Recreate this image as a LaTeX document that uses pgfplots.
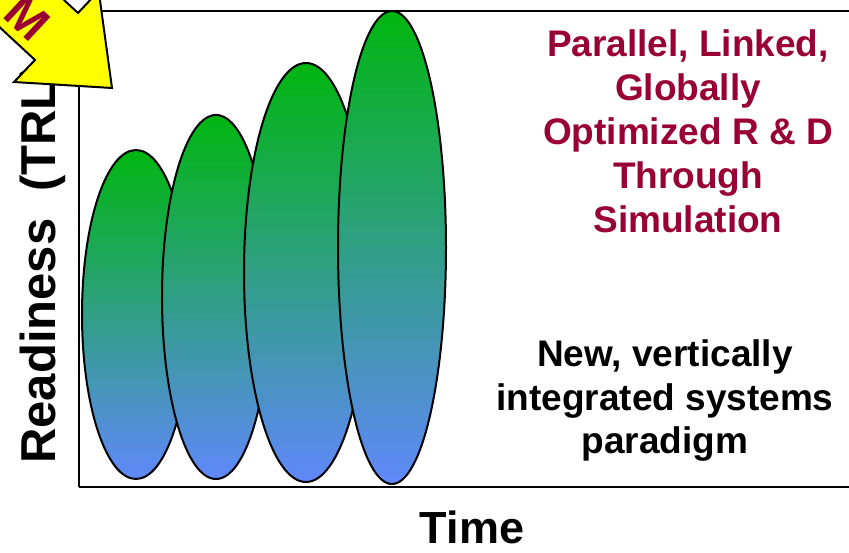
\documentclass[border=0pt]{standalone}
\usepackage{pgfplots}
\pgfplotsset{compat=1.18}
\usepackage{fontspec}
\setmainfont{Liberation Sans}
\definecolor{topgreen}{RGB}{0,182,16}
\definecolor{botblue}{RGB}{96,136,250}
\definecolor{darkred}{RGB}{153,0,51}
\definecolor{arrowyellow}{RGB}{255,255,0}
\begin{document}
\begin{tikzpicture}
\begin{axis}[name=ax, at={(0pt,0pt)}, anchor=south west,
  x=1pt, y=1pt, xmin=79, xmax=849, ymin=0, ymax=476,
  axis x line=box, axis y line=left,
  axis line style={line width=2pt,-},
  xtick=\empty, ytick=\empty, clip=false]
% ellipses: centre x, centre y, x radius, y radius
\shadedraw[top color=topgreen, bottom color=botblue, draw=black, line width=2pt] (axis cs:136,172.5) ellipse [x radius=54, y radius=164.5];
\shadedraw[top color=topgreen, bottom color=botblue, draw=black, line width=2pt] (axis cs:216,190) ellipse [x radius=54, y radius=182];
\shadedraw[top color=topgreen, bottom color=botblue, draw=black, line width=2pt] (axis cs:306,214.5) ellipse [x radius=62, y radius=209.5];
\shadedraw[top color=topgreen, bottom color=botblue, draw=black, line width=2pt] (axis cs:392,239.5) ellipse [x radius=54, y radius=236.5];
% labels
\node[rotate=90, anchor=base west, font=\fontsize{49}{58}\selectfont\bfseries, inner sep=0pt] at (axis cs:56,23) {Readiness\hspace{0.55em}(TRL)};
\node[anchor=base, font=\fontsize{45}{54}\selectfont\bfseries, inner sep=0pt] at (axis cs:472,-56) {Time};
% red text
\begin{scope}[every node/.style={anchor=base, font=\fontsize{37}{44}\selectfont\bfseries, text=darkred, inner sep=0pt}]
\node at (axis cs:688,430) {Parallel, Linked,};
\node at (axis cs:688,386) {Globally};
\node at (axis cs:688,342) {Optimized R \& D};
\node at (axis cs:688,298) {Through};
\node at (axis cs:688,254) {Simulation};
\end{scope}
\begin{scope}[every node/.style={anchor=base, font=\fontsize{37}{44}\selectfont\bfseries, text=black, inner sep=0pt}]
\node at (axis cs:665,121) {New, vertically};
\node at (axis cs:665,77) {integrated systems};
\node at (axis cs:665,34) {paradigm};
\end{scope}
% yellow arrow
\filldraw[fill=arrowyellow, draw=black, line width=2pt, line join=miter]
  (axis cs:112,399) -- (axis cs:98.7,496) -- (axis cs:78,474) -- (axis cs:-32,576)
  -- (axis cs:-75,529) -- (axis cs:35,427) -- (axis cs:14,405) -- cycle;
\node[rotate=-43, font=\fontsize{48}{56}\selectfont\bfseries, text=darkred, inner sep=0pt] at (axis cs:27,469) {M};
\end{axis}
\pgfresetboundingbox
\path[use as bounding box] (-79pt,-65pt) rectangle (770pt,487pt);
\end{tikzpicture}
\end{document}
